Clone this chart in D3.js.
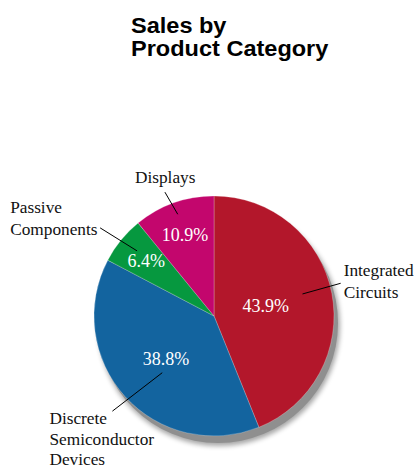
<!DOCTYPE html>
<html>
<head>
<meta charset="utf-8">
<script src="https://cdn.jsdelivr.net/npm/d3@7"></script>
<style>
  body { margin: 0; background: #fff; }
  svg { display: block; }
</style>
</head>
<body>
<svg id="pie" width="416" height="470"></svg>
<script>
// data
var categories = ["Integrated Circuits", "Discrete Semiconductor Devices", "Passive Components", "Displays"];
var shares = [43.9, 38.8, 6.4, 10.9];
var labelLines = [["Integrated", "Circuits"], ["Discrete", "Semiconductor", "Devices"], ["Passive", "Components"], ["Displays"]];
var titleLines = ["Sales by", "Product Category"];

// styling / layout
var colors = ["#b3172b", "#13649f", "#06983f", "#c3066d"];
var pctRadius = [0.44, 0.54, 0.73, 0.72];
// leader line ends: [angle offset deg, radius factor] inner & outer
var leaders = [
    [[-3, 0.76], [-3.5, 1.09]],
    [[-5.5, 0.64], [-1, 1.16]],
    [[1, 0.84], [-1.5, 1.2]],
    [[0, 0.9], [-2, 1.11]]
];
// label text offsets from leader outer end, and line spacing
var labelOffsets = [[3, -7], [-63, 13], [-90, -15], [-30, -9]];
var lineGap = [22, 20.5, 22, 22];

var svg = d3.select("#pie"),
    cx = 214,
    cy = 316,
    radius = 120;

svg.append("g")
    .attr("transform", "translate(131,0) scale(1.07,1)")
    .attr("font-family", "'Liberation Sans', Arial, sans-serif")
    .attr("font-weight", "bold")
    .attr("font-size", 22)
    .selectAll("text")
    .data(titleLines)
    .enter().append("text")
    .attr("x", 0)
    .attr("y", function (d, i) { return 33 + i * 23.5; })
    .text(function (d) { return d; });

var defs = svg.append("defs");
defs.append("filter").attr("id", "blur")
    .attr("x", "-20%").attr("y", "-20%").attr("width", "140%").attr("height", "140%")
    .append("feGaussianBlur").attr("stdDeviation", 2.5);

var pie = d3.pie().sort(null).value(function (d) { return d; });
var arcs = pie(shares);
var arc = d3.arc().innerRadius(0).outerRadius(radius);

var chart = svg.append("g")
    .attr("transform", "translate(" + cx + "," + cy + ")");

// shadow
chart.append("circle")
    .attr("cx", 5).attr("cy", 9).attr("r", radius + 1)
    .attr("fill", "#000").attr("opacity", 0.35)
    .attr("filter", "url(#blur)");
chart.append("circle")
    .attr("cx", 4).attr("cy", 7).attr("r", radius)
    .attr("fill", "#8f8f8f");

chart.selectAll("path.slice")
    .data(arcs)
    .enter().append("path")
    .attr("class", "slice")
    .attr("d", arc)
    .attr("fill", function (d, i) { return colors[i]; })
    .attr("stroke", "#fff")
    .attr("stroke-opacity", 0.4)
    .attr("stroke-width", 0.6);

function polar(angle, r) {
    return [Math.sin(angle) * r, -Math.cos(angle) * r];
}
function mid(d) { return (d.startAngle + d.endAngle) / 2; }
var deg = Math.PI / 180;

chart.selectAll("text.pct")
    .data(arcs)
    .enter().append("text")
    .attr("class", "pct")
    .attr("transform", function (d, i) {
        var p = polar(mid(d), radius * pctRadius[i]);
        return "translate(" + p[0] + "," + p[1] + ")";
    })
    .attr("dy", "0.33em")
    .attr("text-anchor", "middle")
    .attr("fill", "#fff")
    .attr("font-family", "'Liberation Serif', 'Times New Roman', serif")
    .attr("font-size", 18)
    .text(function (d) { return d.data.toFixed(1) + "%"; });

chart.selectAll("line.leader")
    .data(arcs)
    .enter().append("line")
    .attr("class", "leader")
    .each(function (d, i) {
        var a = polar(mid(d) + leaders[i][0][0] * deg, radius * leaders[i][0][1]),
            b = polar(mid(d) + leaders[i][1][0] * deg, radius * leaders[i][1][1]);
        d3.select(this)
            .attr("x1", a[0]).attr("y1", a[1])
            .attr("x2", b[0]).attr("y2", b[1]);
    })
    .attr("stroke", "#000")
    .attr("stroke-width", 1);

chart.selectAll("text.cat")
    .data(arcs)
    .enter().append("text")
    .attr("class", "cat")
    .attr("font-family", "'Liberation Serif', 'Times New Roman', serif")
    .attr("font-size", 17.3)
    .attr("fill", "#111")
    .each(function (d, i) {
        var b = polar(mid(d) + leaders[i][1][0] * deg, radius * leaders[i][1][1]);
        var x = b[0] + labelOffsets[i][0],
            y = b[1] + labelOffsets[i][1];
        d3.select(this).selectAll("tspan")
            .data(labelLines[i])
            .enter().append("tspan")
            .attr("x", x)
            .attr("y", function (t, j) { return y + j * lineGap[i]; })
            .text(function (t) { return t; });
    });
</script>
</body>
</html>
